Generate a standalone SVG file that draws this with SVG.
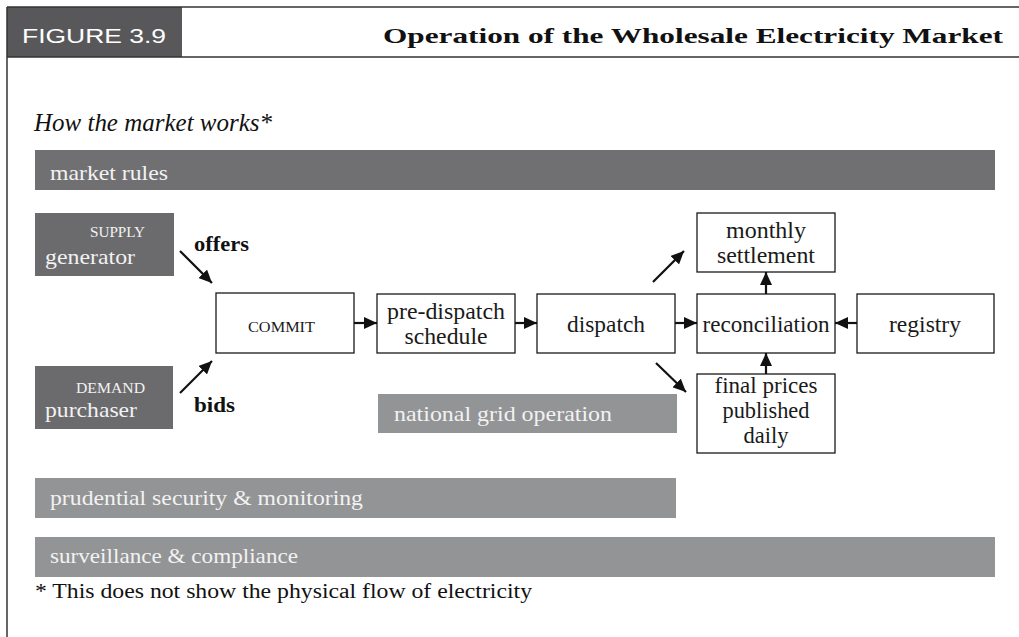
<svg xmlns="http://www.w3.org/2000/svg" width="1019" height="637" viewBox="0 0 1019 637">
<defs>
<style>
.serif{font-family:"Liberation Serif","DejaVu Serif",serif;}
.box{fill:#ffffff;stroke:#1a1a1a;stroke-width:1.3;}
.lbl{font-family:"Liberation Serif","DejaVu Serif",serif;font-size:23px;fill:#1a1a1a;text-anchor:middle;}
.bar-dark{fill:#707073;}
.bar-light{fill:#939496;}
.party{fill:#6b6b6d;}
.bartxt{font-family:"Liberation Serif","DejaVu Serif",serif;font-size:22px;fill:#f2f2f2;}
.small{font-family:"Liberation Serif","DejaVu Serif",serif;font-size:14px;fill:#f2f2f2;}
.conn{stroke:#111;stroke-width:2.2;fill:none;marker-end:url(#ah);}
.bold{font-family:"Liberation Serif","DejaVu Serif",serif;font-size:21px;font-weight:bold;fill:#111;}
</style>
<marker id="ah" markerUnits="userSpaceOnUse" markerWidth="14" markerHeight="12" refX="13" refY="6" orient="auto">
<path d="M0,0 L13,6 L0,12 Z" fill="#111"/>
</marker>
</defs>
<rect width="1019" height="637" fill="#ffffff"/>
<g id="header">
<rect x="7" y="7" width="175" height="50" fill="#58585a"/>
<line x1="7" y1="7" x2="1019" y2="7" stroke="#333" stroke-width="1.5"/>
<line x1="7" y1="57" x2="1019" y2="57" stroke="#333" stroke-width="1.5"/>
<line x1="7" y1="7" x2="7" y2="637" stroke="#333" stroke-width="1.5"/>
<text x="22" y="43" font-family="Liberation Sans, Arial, sans-serif" font-size="20" fill="#ffffff" textLength="144" lengthAdjust="spacingAndGlyphs">FIGURE 3.9</text>
<text x="383" y="43" class="serif" font-size="21" font-weight="bold" fill="#111" textLength="620" lengthAdjust="spacingAndGlyphs">Operation of the Wholesale Electricity Market</text>
</g>
<text x="34" y="131" class="serif" font-size="25" font-style="italic" fill="#111" textLength="238" lengthAdjust="spacingAndGlyphs">How the market works*</text>
<g id="market-rules">
<rect x="35" y="150" width="960" height="40" class="bar-dark"/>
<text x="50" y="180" class="bartxt" textLength="118" lengthAdjust="spacingAndGlyphs">market rules</text>
</g>
<g id="generator">
<rect x="35" y="213" width="139" height="63" class="party"/>
<text x="90" y="237" class="small" textLength="55" lengthAdjust="spacingAndGlyphs">SUPPLY</text>
<text x="45" y="264" class="bartxt" font-size="25" textLength="90" lengthAdjust="spacingAndGlyphs">generator</text>
</g>
<g id="purchaser">
<rect x="35" y="366" width="138" height="63" class="party"/>
<text x="76" y="393" class="small" textLength="69" lengthAdjust="spacingAndGlyphs">DEMAND</text>
<text x="45" y="417" class="bartxt" font-size="25" textLength="92" lengthAdjust="spacingAndGlyphs">purchaser</text>
</g>
<g id="commit">
<rect x="216" y="293" width="138" height="60" class="box"/>
<text x="248" y="332" class="serif" font-size="14" fill="#1a1a1a" textLength="67" lengthAdjust="spacingAndGlyphs">COMMIT</text>
</g>
<g id="pre-dispatch">
<rect x="377" y="294" width="138" height="59" class="box"/>
<text x="446" y="319" class="lbl" textLength="118" lengthAdjust="spacingAndGlyphs">pre-dispatch</text>
<text x="446" y="344" class="lbl" textLength="83" lengthAdjust="spacingAndGlyphs">schedule</text>
</g>
<g id="dispatch">
<rect x="537" y="294" width="138" height="59" class="box"/>
<text x="606" y="332" class="lbl" textLength="78" lengthAdjust="spacingAndGlyphs">dispatch</text>
</g>
<g id="monthly-settlement">
<rect x="697" y="213" width="138" height="59" class="box"/>
<text x="766" y="238" class="lbl" textLength="80" lengthAdjust="spacingAndGlyphs">monthly</text>
<text x="766" y="263" class="lbl" textLength="98" lengthAdjust="spacingAndGlyphs">settlement</text>
</g>
<g id="reconciliation">
<rect x="697" y="294" width="138" height="59" class="box"/>
<text x="766" y="332" class="lbl" textLength="127" lengthAdjust="spacingAndGlyphs">reconciliation</text>
</g>
<g id="registry">
<rect x="857" y="294" width="137" height="59" class="box"/>
<text x="925" y="332" class="lbl" textLength="72" lengthAdjust="spacingAndGlyphs">registry</text>
</g>
<g id="final-prices">
<rect x="697" y="374" width="138" height="79" class="box"/>
<text x="766" y="393" class="lbl" textLength="103" lengthAdjust="spacingAndGlyphs">final prices</text>
<text x="766" y="418" class="lbl" textLength="87" lengthAdjust="spacingAndGlyphs">published</text>
<text x="766" y="443" class="lbl" textLength="45" lengthAdjust="spacingAndGlyphs">daily</text>
</g>
<g id="national-grid">
<rect x="378" y="394" width="299" height="39" class="bar-light"/>
<text x="394" y="421" class="bartxt" textLength="218" lengthAdjust="spacingAndGlyphs">national grid operation</text>
</g>
<g id="prudential">
<rect x="35" y="478" width="641" height="40" class="bar-light"/>
<text x="50" y="505" class="bartxt" textLength="313" lengthAdjust="spacingAndGlyphs">prudential security &amp; monitoring</text>
</g>
<g id="surveillance">
<rect x="35" y="537" width="960" height="40" class="bar-light"/>
<text x="50" y="563" class="bartxt" textLength="248" lengthAdjust="spacingAndGlyphs">surveillance &amp; compliance</text>
</g>
<text x="35" y="598" class="serif" font-size="20" fill="#111" textLength="497" lengthAdjust="spacingAndGlyphs">* This does not show the physical flow of electricity</text>
<g id="connector-labels">
<text x="194" y="251" class="bold" textLength="55" lengthAdjust="spacingAndGlyphs">offers</text>
<text x="194" y="412" class="bold" textLength="41" lengthAdjust="spacingAndGlyphs">bids</text>
</g>
<g id="connectors">
<line x1="180" y1="251" x2="212" y2="283" class="conn"/>
<line x1="180" y1="393" x2="212" y2="361" class="conn"/>
<line x1="354" y1="323" x2="377" y2="323" class="conn"/>
<line x1="515" y1="323" x2="537" y2="323" class="conn"/>
<line x1="675" y1="323" x2="697" y2="323" class="conn"/>
<line x1="653" y1="282" x2="684" y2="251" class="conn"/>
<line x1="656" y1="363" x2="686" y2="392" class="conn"/>
<line x1="857" y1="323" x2="835" y2="323" class="conn"/>
<line x1="766" y1="294" x2="766" y2="272" class="conn"/>
<line x1="766" y1="374" x2="766" y2="353" class="conn"/>
</g>
</svg>
